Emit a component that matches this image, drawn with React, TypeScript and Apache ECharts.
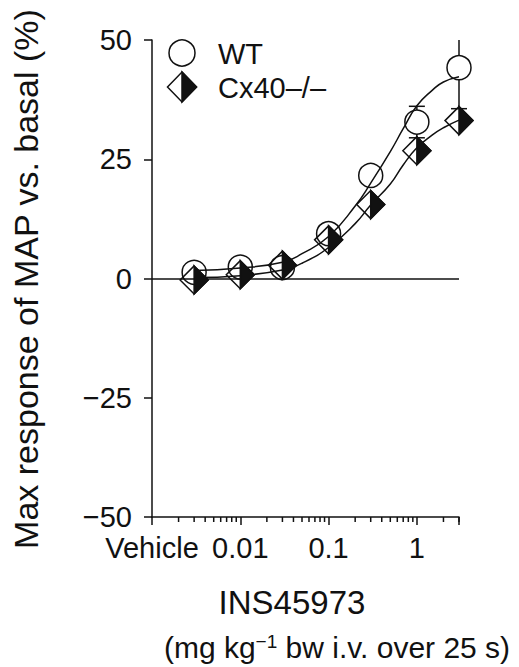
import React, { useEffect, useRef } from 'react';
import * as echarts from 'echarts';

// Measured doses (mg/kg); vehicle plotted at 0.003
const doses = [0.003, 0.01, 0.03, 0.1, 0.3, 1, 3];
const wtMean = [1.3, 2.4, 2.3, 9.4, 21.6, 32.8, 44.2];
const wtSem = [0.5, 0.5, 0.5, 1.0, 1.5, 3.3, 8.6];
const cxMean = [-0.3, 0.8, 2.8, 8.1, 15.5, 26.8, 33.1];
const cxSem = [0.5, 0.5, 0.5, 1.0, 2.7, 2.4, 2.7];

// Fitted curves
const curveDose = [0.003, 0.01, 0.03, 0.05, 0.1, 0.2, 0.3, 0.5, 0.7, 1, 1.5, 2, 3];
const wtFit = [1.7, 2.2, 3.4, 5.2, 8.8, 15.2, 20.0, 26.6, 31.4, 36.2, 39.5, 41.2, 42.3];
const cxFit = [0.2, 0.6, 1.8, 3.2, 6.5, 11.5, 15.4, 19.8, 23.8, 27.4, 30.1, 31.6, 33.2];

// Axis
const xTickValues = [0.001, 0.01, 0.1, 1];
const xTickLabels = ['Vehicle', '0.01', '0.1', '1'];
const xMinorTicks = [
  0.002, 0.003, 0.004, 0.005, 0.006, 0.007, 0.008, 0.009,
  0.02, 0.03, 0.04, 0.05, 0.06, 0.07, 0.08, 0.09,
  0.2, 0.3, 0.4, 0.5, 0.6, 0.7, 0.8, 0.9,
  2, 3,
];
const Y_MIN = -50;
const Y_MAX = 50;
const Y_STEP = 25;

const seriesNames = ['WT', 'Cx40–/–'];

export default function App() {
  const ref = useRef<HTMLDivElement>(null);
  useEffect(() => {
    const chart = echarts.init(ref.current!, null, { renderer: 'svg' });
    const FONT = '"Liberation Sans", Arial, Helvetica, sans-serif';
    const INK = '#111';
    const LW = 1.5;
    const CIRCLE_R = 12;
    const DIAMOND_H = 14;
    const CAP = 8;

    const lineStyle = { stroke: INK, lineWidth: LW };

    const errItem = (half: number) => (_p: any, api: any) => {
      const x = api.value(0);
      const y = api.value(1);
      const e = api.value(2);
      const c = api.coord([x, y]);
      const top = api.coord([x, Math.min(y + e, Y_MAX)]);
      const bot = api.coord([x, Math.max(y - e, Y_MIN)]);
      const children: any[] = [];
      if (c[1] - top[1] > half) {
        children.push({ type: 'line', shape: { x1: c[0], y1: c[1] - half, x2: c[0], y2: top[1] }, style: lineStyle });
        if (y + e <= Y_MAX) {
          children.push({ type: 'line', shape: { x1: c[0] - CAP, y1: top[1], x2: c[0] + CAP, y2: top[1] }, style: lineStyle });
        }
      }
      if (bot[1] - c[1] > half) {
        children.push({ type: 'line', shape: { x1: c[0], y1: c[1] + half, x2: c[0], y2: bot[1] }, style: lineStyle });
        children.push({ type: 'line', shape: { x1: c[0] - CAP, y1: bot[1], x2: c[0] + CAP, y2: bot[1] }, style: lineStyle });
      }
      return { type: 'group', children };
    };

    const diamond = (x: number, y: number, h: number) => [
      { type: 'polygon', shape: { points: [[x, y - h], [x + h, y], [x, y + h], [x - h, y]] }, style: { fill: 'none', stroke: INK, lineWidth: LW } },
      { type: 'polygon', shape: { points: [[x, y - h], [x + h, y], [x, y + h]] }, style: { fill: INK, stroke: INK, lineWidth: LW } },
    ];

    const option: any = {
      animation: false,
      backgroundColor: '#fff',
      grid: { left: 152, right: 60, top: 40, bottom: 150 },
      xAxis: {
        type: 'log',
        logBase: 10,
        min: 0.001,
        max: 3,
        axisLine: { onZero: false, lineStyle: { color: INK, width: LW } },
        axisTick: { show: true, length: 8, lineStyle: { color: INK, width: LW } },
        axisLabel: {
          fontSize: 29,
          fontFamily: FONT,
          color: INK,
          margin: 16,
          hideOverlap: false,
          showMinLabel: true,
          showMaxLabel: true,
          formatter: (v: number) => {
            const l = Math.log10(v);
            const r = Math.round(l);
            if (Math.abs(l - r) > 1e-6) return '';
            const i = xTickValues.findIndex((t) => Math.abs(Math.log10(t) - r) < 1e-6);
            return i >= 0 ? xTickLabels[i] : '';
          },
        },
        splitLine: { show: false },
        minorTick: { show: false },
      },
      yAxis: {
        type: 'value',
        min: Y_MIN,
        max: Y_MAX,
        interval: Y_STEP,
        axisLine: { show: true, lineStyle: { color: INK, width: LW } },
        axisTick: { show: true, length: 8, lineStyle: { color: INK, width: LW } },
        axisLabel: {
          fontSize: 29,
          fontFamily: FONT,
          color: INK,
          margin: 20,
          formatter: (v: number) => String(v).replace('-', '−'),
        },
        splitLine: { show: false },
      },
      series: [
        {
          type: 'line',
          name: seriesNames[0] + ' fit',
          data: curveDose.map((d, i) => [d, wtFit[i]]),
          smooth: true,
          showSymbol: false,
          symbol: 'none',
          lineStyle: { color: INK, width: LW },
          z: 2,
          markLine: {
            silent: true,
            symbol: 'none',
            label: { show: false },
            lineStyle: { color: INK, width: LW, type: 'solid' },
            data: [{ yAxis: 0 }],
          },
        },
        {
          type: 'line',
          name: seriesNames[1] + ' fit',
          data: curveDose.map((d, i) => [d, cxFit[i]]),
          smooth: true,
          showSymbol: false,
          symbol: 'none',
          lineStyle: { color: INK, width: LW },
          z: 2,
        },
        {
          type: 'custom',
          name: seriesNames[0] + ' err',
          data: doses.map((d, i) => [d, wtMean[i], wtSem[i]]),
          encode: { x: 0, y: 1 },
          renderItem: errItem(CIRCLE_R),
          clip: false,
          z: 3,
        },
        {
          type: 'custom',
          name: seriesNames[1] + ' err',
          data: doses.map((d, i) => [d, cxMean[i], cxSem[i]]),
          encode: { x: 0, y: 1 },
          renderItem: errItem(DIAMOND_H),
          clip: false,
          z: 3,
        },
        {
          type: 'custom',
          name: seriesNames[0],
          data: doses.map((d, i) => [d, wtMean[i]]),
          encode: { x: 0, y: 1 },
          renderItem: (_p: any, api: any) => {
            const c = api.coord([api.value(0), api.value(1)]);
            return { type: 'circle', shape: { cx: c[0], cy: c[1], r: CIRCLE_R }, style: { fill: 'none', stroke: INK, lineWidth: LW } };
          },
          clip: false,
          z: 4,
        },
        {
          type: 'custom',
          name: seriesNames[1],
          data: doses.map((d, i) => [d, cxMean[i]]),
          encode: { x: 0, y: 1 },
          renderItem: (_p: any, api: any) => {
            const c = api.coord([api.value(0), api.value(1)]);
            return { type: 'group', children: diamond(c[0], c[1], DIAMOND_H) };
          },
          clip: false,
          z: 5,
        },
        {
          type: 'custom',
          name: 'minor ticks',
          data: xMinorTicks.map((v) => [v, Y_MIN]),
          encode: { x: 0, y: 1 },
          renderItem: (_p: any, api: any) => {
            const c = api.coord([api.value(0), api.value(1)]);
            return { type: 'line', shape: { x1: c[0], y1: c[1], x2: c[0], y2: c[1] + 5 }, style: lineStyle };
          },
          clip: false,
          silent: true,
          z: 1,
        },
      ],
      graphic: [
        // legend
        { type: 'circle', shape: { cx: 182, cy: 53, r: 13 }, style: { fill: 'none', stroke: INK, lineWidth: LW } },
        { type: 'polygon', shape: { points: [[182, 72], [196.5, 87], [182, 102], [167.5, 87]] }, style: { fill: 'none', stroke: INK, lineWidth: LW } },
        { type: 'polygon', shape: { points: [[182, 72], [196.5, 87], [182, 102]] }, style: { fill: INK, stroke: INK, lineWidth: LW } },
        { type: 'text', x: 218, y: 54, style: { text: seriesNames[0], fontSize: 29, fontFamily: FONT, fill: INK, align: 'left', verticalAlign: 'middle' } },
        { type: 'text', x: 218, y: 88, style: { text: seriesNames[1], fontSize: 29, fontFamily: FONT, fill: INK, align: 'left', verticalAlign: 'middle' } },
        // y axis title
        {
          type: 'text',
          x: 26,
          y: 279,
          rotation: Math.PI / 2,
          style: { text: 'Max response of MAP vs. basal (%)', fontSize: 34, fontFamily: FONT, fill: INK, align: 'center', verticalAlign: 'middle' },
        },
        // x axis title
        { type: 'text', x: 292, y: 602, style: { text: 'INS45973', fontSize: 33, fontFamily: FONT, fill: INK, align: 'center', verticalAlign: 'middle' } },
        {
          type: 'text',
          x: 337,
          y: 647,
          style: {
            text: '{a|(mg kg}{s|−1}{a| bw i.v. over 25 s)}',
            align: 'center',
            verticalAlign: 'middle',
            fill: INK,
            rich: {
              a: { fontSize: 30, fontFamily: FONT, fill: INK, color: INK, verticalAlign: 'bottom' },
              s: { fontSize: 19, fontFamily: FONT, fill: INK, color: INK, verticalAlign: 'top' },
            },
          },
        },
      ],
    };
    chart.setOption(option);
    return () => chart.dispose();
  }, []);
  return <div ref={ref} style={{ position: 'fixed', left: 0, top: 0, width: 519, height: 667 }} />;
}
